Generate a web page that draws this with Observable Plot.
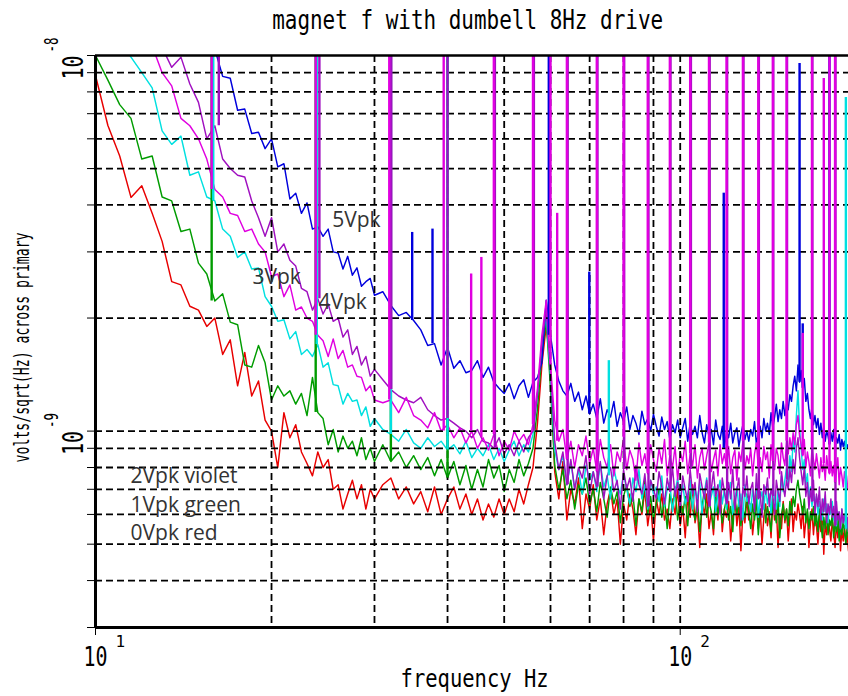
<!DOCTYPE html>
<html><head><meta charset="utf-8">
<script src="https://cdn.jsdelivr.net/npm/d3@7"></script>
<script src="https://cdn.jsdelivr.net/npm/@observablehq/plot@0.6"></script>
<style>html,body{margin:0;padding:0;background:#fff;} svg{display:block;}</style>
</head><body>
<script>
// ---------- data (values in units of 1e-11 V/sqrt(Hz)) ----------
const freqLow = [10,10.5,11,11.5,12,12.5,13,13.5,14,14.5,15,15.5,16,16.5,17,17.5,18,18.5,19,19.5,20,20.5,21,21.5,22,22.5,23,23.5,24,24.5,25,25.5,26,26.5,27,27.5,28,28.5,29,29.5,30];
const freqHigh = [31,32,33,34,35,36,37,38,39,40,41,42,43,44,45,46,47,48,49,50,51,52,53,54,55,56,57,58,59,60,
61,62,63,64,65,66,67,68,69,70,71,72,73,74,75,76,77,78,79,80,81,82,83,84,85,86,87,88,89,90,
91,92,93,94,95,96,97,98,99,100,101,102,103,104,105,106,107,108,109,110,111,112,113,114,115,116,117,118,119,120,
121,122,123,124,125,126,127,128,129,130,131,132,133,134,135,136,137,138,139,140,141,142,143,144,145,146,147,148,149,150,
151,152,153,154,155,156,157,158,159,160,161,162,163,164,165,166,167,168,169,170,171,172,173,174,175,176,177,178,179,180,
181,182,183,184,185,186,187,188,189,190,191,192,193,194];

const red0Low = [885,651,540,419,450,380,320,250,245,215,210,190,200,160,175,132,162,124,136,107,100,80,112,96,104,88,82,76,88,80,84,70,72,62,68,74,66,72,62,70,66];
const red0High = [72,75,66,71,64,69,61,71,60,66, 71,62,68,60,66,58,64,59,66,60, 66,61,70,64,72,80,105,150,191,150,
78,66,83,58,70,64,75,55,68,62, 72,58,66,53,64,70,60,66,50,64, 58,68,62,53,66,60,70,56,64,51,
66,60,68,58,62,55,66,60,70,56, 63,52,67,59,72,57,62,49,65,60, 68,55,61,53,66,58,70,54,62,59,
65,51,60,67,56,63,48,61,57,66, 58,64,53,60,69,55,62,50,59,64, 56,61,52,66,58,63,49,60,55,65,
57,62,51,59,66,54,61,58,64,60, 55,63,52,58,61,49,57,62,53,60, 56,50,59,54,62,47,57,53,60,55,
51,58,54,49,57,52,60,48,55,51, 56,50,53,48];

const green1Low = [1000,860,740,680,530,540,420,410,340,345,280,262,222,232,195,192,150,148,169,152,121,132,124,128,118,126,110,139,112,108,92,101,88,97,90,94,86,96,84,90,83];
const green1High = [92,83,88,80,86,79,85,76,84,75, 83,72,81,70,79,71,84,75,81,69, 79,73,84,76,82,90,115,160,197,130,
81,70,79,66,74,62,72,68,75,64, 70,61,73,66,59,71,64,69,57,67, 72,63,68,56,66,61,74,60,67,58,
64,70,59,66,55,68,62,71,58,65, 60,67,56,69,62,58,66,54,63,70, 59,65,61,55,68,60,64,57,62,66,
58,63,54,67,60,65,56,62,59,68, 61,55,64,58,66,53,62,60,67,57, 63,59,54,65,61,57,66,52,60,64,
58,62,56,65,60,67,63,70,74,68, 64,60,66,57,62,55,61,58,63,56, 60,54,62,57,52,59,55,61,53,58,
56,60,52,57,54,59,51,56,53,58, 54,50,56,52];

const violet2Low = [2100,1900,1700,1550,1400,1250,1050,930,990,840,750,600,650,530,500,480,475,410,370,330,370,300,315,285,275,240,235,210,225,205,218,196,200,178,186,160,168,150,158,140,146];
const violet2High = [137,129,124,121,119,123,114,110,107,108, 105,102,100,96,101,94,93,90,96,87, 92,86,94,88,96,100,125,172,210,145,
94,79,88,72,84,70,80,75,86,68, 78,71,83,66,76,80,69,74,62,79, 70,75,65,81,72,68,77,63,74,70,
66,78,71,64,75,69,80,67,73,62, 76,70,65,79,68,73,61,77,71,66, 74,63,70,78,67,72,60,75,69,64,
73,66,79,62,70,75,58,71,67,76, 64,70,73,61,77,66,69,59,72,68, 75,63,70,67,60,74,69,65,78,71,
67,74,70,79,73,84,77,90,96,85, 78,72,80,67,73,62,70,65,74,60, 68,63,71,58,66,61,69,57,64,60,
66,59,63,56,65,58,61,55,62,57, 60,56,59,54];

const cyan3Low = [1300,1200,1100,990,900,820,630,580,610,480,490,420,410,345,330,290,300,270,272,228,215,196,198,176,184,160,165,158,170,148,152,133,132,118,126,120,121,110,116,103,108];
const cyan3High = [101,98,94,101,93,90,96,91,94,89, 92,87,94,85,90,86,92,84,90,83, 89,94,86,92,88,98,125,170,203,140,
89,79,86,72,83,70,79,68,81,74, 78,69,82,71,76,66,80,72,68,77, 70,64,75,69,79,66,72,62,74,68,
71,65,76,63,70,73,61,69,75,66, 72,64,68,74,62,70,66,73,60,69, 75,63,67,71,61,68,74,64,70,62,
69,73,60,66,71,63,68,58,72,65, 67,61,70,64,73,59,66,69,62,71, 64,68,60,72,66,62,70,63,76,69,
74,80,72,86,78,95,88,110,128,102, 90,79,84,72,77,66,71,63,68,64, 67,60,65,62,58,66,61,64,57,63,
60,65,58,62,56,61,59,55,62,57, 60,55,58,54];

const magenta4Low = [1700,1550,1420,1300,1180,1060,900,830,680,650,600,530,440,420,380,375,340,345,315,300,258,262,228,245,210,214,200,196,180,174,158,176,156,164,148,150,140,139,128,132,121];
const magenta4High = [119,121,112,123,110,107,102,112,100,104, 96,102,93,100,90,96,89,98,86,94, 89,100,94,98,92,104,130,180,223,150,
107,94,101,84,94,80,92,86,97,82, 90,78,95,85,80,92,76,88,83,96, 79,89,84,74,93,81,87,77,92,84,
78,90,82,95,76,86,80,91,74,88, 83,94,77,87,81,92,75,85,90,79, 86,93,78,84,89,76,92,82,87,80,
91,77,85,89,74,88,83,94,79,86, 82,90,76,87,93,80,85,78,91,84, 88,75,92,83,79,90,86,77,93,85,
81,94,87,96,89,99,92,104,110,97, 92,86,95,80,88,83,76,90,84,79, 87,81,75,85,78,82,74,86,80,77,
83,76,81,73,79,85,72,80,76,71, 78,74,70,76];

const blue5Low = [3600,3300,3000,2700,2450,2200,2000,1800,1650,1480,1320,1180,1040,880,870,715,720,620,625,565,600,505,515,415,430,380,405,345,350,330,345,300,298,270,292,260,272,243,250,255,230];
const blue5High = [235,216,203,207,197,186,169,171,150,167, 147,154,143,145,154,139,148,135,130,126, 134,122,132,137,123,135,139,152,223,180,
150,136,128,124,134,120,127,114,124,111, 118,108,122,105,114,109,120,103,112,106, 116,101,110,105,98,113,104,108,100,111,
103,97,109,101,106,95,104,99,107,96, 102,108,94,105,98,103,96,110,99,93, 104,97,101,92,107,98,95,103,90,100,
96,105,93,99,102,91,98,104,95,100, 94,101,97,106,92,99,103,96,108,100, 105,98,112,102,109,118,106,114,108,120,
110,118,114,125,120,132,140,128,150,135, 145,130,138,120,126,114,108,116,104,110, 102,108,98,105,96,103,94,100,97,92,
99,94,101,90,96,93,98,89,95,91, 94,88,92,90];

// narrow lines (drive harmonics, mains) per series: frequency (Hz) and peak (1e-11 units)
const red0SpikeF = [], red0SpikeV = [];
const green1SpikeF = [15.8, 23.8, 32, 40];
const green1SpikeV = [10000, 10000, 10000, 10000];
const cyan3SpikeF = [15.9, 23.9, 32, 40, 75.5, 192];
const cyan3SpikeV = [10000, 10000, 10000, 10000, 154, 773];
const blue5SpikeF = [34.8, 37.7, 59.6, 69.9, 118.7, 160, 162, 180];
const blue5SpikeV = [338, 345, 10000, 265, 430, 952, 193, 10000];
const violet2SpikeF = [16.25, 24.15, 32.05, 40, 48.2, 56.2, 64.2, 72.2, 80.2, 88.25, 96.25, 104.3, 112.3, 120.3, 128.3, 136.3, 144.3, 152.3, 168.3, 184.3];
const violet2SpikeV = [10000,10000,10000,10000,10000,10000,10000,10000,10000,10000,10000,10000,10000,10000,10000,10000,10000,10000,10000,10000];
const magenta4SpikeF = [15.8, 23.8, 31.8, 39.4, 48, 56, 60, 64, 72, 80, 88, 96, 104, 112, 120, 128, 136, 144, 152, 168, 180, 184, 43.9, 45.7, 61.6, 162, 176];
const magenta4SpikeV = [10000,10000,10000,10000,10000,10000,10000,10000,10000,10000,10000,10000,10000,10000,10000,10000,10000,10000,10000,10000,10000,10000, 262, 290, 380, 182, 869];

const xGrid = [20, 30, 40, 50, 60, 70, 80, 90, 100];
const yGrid = [9e-9, 8e-9, 7e-9, 6e-9, 5e-9, 4e-9, 3e-9, 2e-9, 1e-9, 9e-10, 8e-10, 7e-10, 6e-10, 5e-10, 4e-10];
const xMajor = [10, 100];
const xExpLabels = ["1", "2"];
const yMajor = [1e-8, 1e-9];
const yExpLabels = ["-8", "-9"];

// ---------- build tables ----------
const freqs = freqLow.concat(freqHigh);
const UNIT = 1e-11;
function rows(name, low, high) {
  const vals = low.concat(high);
  return freqs.map((f, i) => ({series: name, f, v: vals[i] * UNIT}));
}
function spikeRows(name, fs, ps, noise) {
  return fs.map((f, i) => {
    const near = d3.least(noise, d => Math.abs(d.f - f));
    return {series: name, f, base: near.v, peak: ps[i] * UNIT};
  });
}
const S = [
  {name: "0Vpk", low: red0Low, high: red0High, sf: red0SpikeF, sv: red0SpikeV},
  {name: "1Vpk", low: green1Low, high: green1High, sf: green1SpikeF, sv: green1SpikeV},
  {name: "3Vpk", low: cyan3Low, high: cyan3High, sf: cyan3SpikeF, sv: cyan3SpikeV},
  {name: "5Vpk", low: blue5Low, high: blue5High, sf: blue5SpikeF, sv: blue5SpikeV},
  {name: "2Vpk", low: violet2Low, high: violet2High, sf: violet2SpikeF, sv: violet2SpikeV},
  {name: "4Vpk", low: magenta4Low, high: magenta4High, sf: magenta4SpikeF, sv: magenta4SpikeV}
];
const colors = {"0Vpk": "#e80000", "1Vpk": "#009c00", "3Vpk": "#00e0e0", "5Vpk": "#0000dd", "2Vpk": "#a010c0", "4Vpk": "#e000e0"};
S.forEach(s => { s.rows = rows(s.name, s.low, s.high); s.spikes = spikeRows(s.name, s.sf, s.sv, s.rows); });

const mono = "DejaVu Sans Mono";
const annot = "Open Sans";
const dash = {stroke: "#000", strokeWidth: 1.8, strokeDasharray: "7,4"};

const svg = Plot.plot({
  width: 848, height: 696,
  marginLeft: 95, marginRight: 0, marginTop: 55, marginBottom: 69,
  style: {background: "#fff", fontFamily: mono, fontSize: "12px", color: "#000"},
  x: {type: "log", domain: [10, 194], ticks: xMajor, tickSize: 8, tickFormat: () => "", label: null},
  y: {type: "log", domain: [3e-10, 1e-8], ticks: [1e-8, ...yGrid, 3e-10], tickSize: 8, tickFormat: () => "", label: null},
  marks: [
    ...S.map(s => Plot.line(s.rows, {x: "f", y: "v", stroke: colors[s.name], strokeWidth: 1.45, clip: true})),
    Plot.ruleY(yGrid, dash),
    Plot.ruleX(xGrid, dash),
    ...S.map(s => Plot.ruleX(s.spikes, {x: "f", y1: "base", y2: "peak", stroke: colors[s.name], strokeWidth: 2.4, clip: true})),
    Plot.ruleX([10], {stroke: "#000", strokeWidth: 3}),
    Plot.ruleY([3e-10], {stroke: "#000", strokeWidth: 3}),
    Plot.ruleY([1e-8], {stroke: "#000", strokeWidth: 2.5}),
    // titles
    Plot.text(["magnet f with dumbell 8Hz drive"], {x: 43.3, y: 1e-8, dy: -27, textAnchor: "middle", lineAnchor: "bottom", fontSize: 26, fontFamily: mono, fill: "#000"}),
    Plot.text(["frequency Hz"], {x: 44.5, y: 3e-10, dy: 59, textAnchor: "middle", lineAnchor: "bottom", fontSize: 24, fontFamily: mono, fill: "#000"}),
    Plot.text(["volts/sqrt(Hz) across primary"], {x: 10, y: 1.67e-9, dx: -67, rotate: -90, textAnchor: "middle", lineAnchor: "bottom", fontSize: 21, fontFamily: mono, fill: "#000"}),
    // tick labels
    Plot.text(yMajor, {x: 10, y: d => d, text: () => "10", dx: -13, rotate: -90, textAnchor: "end", lineAnchor: "bottom", fontSize: 29, fontFamily: mono, fill: "#000"}),
    Plot.text(yMajor, {x: 10, y: d => d, text: (d, i) => yExpLabels[i], dx: -38, dy: -3, rotate: -90, textAnchor: "start", lineAnchor: "bottom", fontSize: 20, fontFamily: mono, fill: "#000"}),
    Plot.text(xMajor, {x: d => d, y: 3e-10, text: () => "10", dy: 38, textAnchor: "middle", lineAnchor: "bottom", fontSize: 26, fontFamily: mono, fill: "#000"}),
    Plot.text(xMajor, {x: d => d, y: 3e-10, text: (d, i) => xExpLabels[i], dx: 20, dy: 19, textAnchor: "start", lineAnchor: "bottom", fontSize: 16, fontFamily: mono, fill: "#000"}),
    // annotations
    Plot.text(["5Vpk"], {x: 25.4, y: 3.49e-9, textAnchor: "start", lineAnchor: "bottom", fontSize: 21, fontFamily: annot, fill: "#333"}),
    Plot.text(["3Vpk"], {x: 18.55, y: 2.47e-9, textAnchor: "start", lineAnchor: "bottom", fontSize: 21, fontFamily: annot, fill: "#333"}),
    Plot.text(["4Vpk"], {x: 24.06, y: 2.12e-9, textAnchor: "start", lineAnchor: "bottom", fontSize: 21, fontFamily: annot, fill: "#333"}),
    Plot.text(["2Vpk violet"], {x: 11.48, y: 7.27e-10, textAnchor: "start", lineAnchor: "bottom", fontSize: 21, fontFamily: annot, fill: "#333"}),
    Plot.text(["1Vpk green"], {x: 11.48, y: 6.09e-10, textAnchor: "start", lineAnchor: "bottom", fontSize: 21, fontFamily: annot, fill: "#333"}),
    Plot.text(["0Vpk red"], {x: 11.48, y: 5.13e-10, textAnchor: "start", lineAnchor: "bottom", fontSize: 21, fontFamily: annot, fill: "#333"})
  ]
});
document.body.appendChild(svg);

// condense the plotter-style monospace labels to the reference widths
const lengths = new Map([["magnet f with dumbell 8Hz drive", 391], ["frequency Hz", 148], ["volts/sqrt(Hz) across primary", 230], ["10", 24], ["-8", 15], ["-9", 15]]);
svg.querySelectorAll('g[font-family="DejaVu Sans Mono"] text').forEach(t => {
  const L = lengths.get(t.textContent);
  if (L) { t.setAttribute("textLength", L); t.setAttribute("lengthAdjust", "spacingAndGlyphs"); }
});
</script>
</body></html>
